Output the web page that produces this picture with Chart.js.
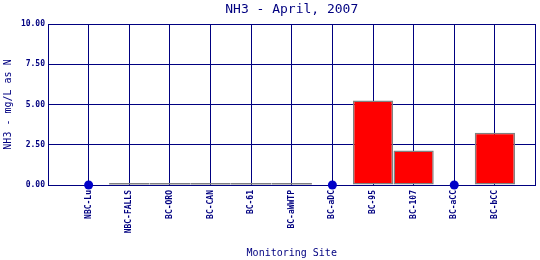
<!DOCTYPE html>
<html>
<head>
<meta charset="utf-8">
<script src="https://cdn.jsdelivr.net/npm/chart.js@4"></script>
<style>
  body { margin: 0; background: #fff; }
  canvas { display: block; }
</style>
</head>
<body>
<canvas id="nh3Chart" width="540" height="260"></canvas>
<script>
// monitoring sites along the x axis
const sites = ['NBC-Lu', 'NBC-FALLS', 'BC-ORO', 'BC-CAN', 'BC-61', 'BC-aWWTP',
               'BC-aDC', 'BC-95', 'BC-107', 'BC-aCC', 'BC-bCC'];
// NH3 (mg/L as N) shown as bars, null = no bar
const barValues = [null, 0, 0, 0, 0, 0, null, 5.25, 2.15, null, 3.25];
// sites drawn as a dot on the zero line
const dotValues = [0, null, null, null, null, null, 0, null, null, 0, null];
const yTicks = [0, 2.5, 5, 7.5, 10];

const navy = '#000080';
const gray = '#808080';
const mono = 'DejaVu Sans Mono';

const ctx = document.getElementById('nh3Chart').getContext('2d');
const nh3Chart = new Chart(ctx, {
    type: 'bar',
    data: {
        datasets: [{
            type: 'line',
            label: 'below detection',
            data: sites.map((s, i) => ({ x: i + 1, y: dotValues[i] })),
            showLine: false,
            pointRadius: 4.5,
            pointBackgroundColor: '#0000c8',
            pointBorderColor: '#0000c8',
            pointBorderWidth: 0,
            clip: false
        }, {
            label: 'NH3',
            data: sites.map((s, i) => ({ x: i + 1, y: barValues[i] })),
            // zero values show up as a flat gray line on the axis
            backgroundColor: c => (c.raw && c.raw.y === 0 ? gray : '#ff0000'),
            borderColor: gray,
            borderWidth: c => (c.raw && c.raw.y === 0 ? 0 : 1.5),
            borderSkipped: false,
            minBarLength: 2,
            barPercentage: 0.99,
            categoryPercentage: 1,
            clip: false
        }]
    },
    options: {
        responsive: false,
        animation: false,
        devicePixelRatio: 1,
        layout: { padding: { left: 0, right: 4, top: 0, bottom: 1 } },
        plugins: {
            legend: { display: false },
            tooltip: { enabled: false },
            title: {
                display: true,
                text: 'NH3 - April, 2007',
                fullSize: false,
                color: navy,
                font: { family: mono, size: 13, weight: 'normal' },
                padding: { top: 2, bottom: 6.4 }
            }
        },
        scales: {
            x: {
                type: 'linear',
                offset: false,
                min: 0,
                max: sites.length + 1,
                afterBuildTicks: s => {
                    s.ticks = [0, ...sites.map((n, i) => i + 1), sites.length + 1].map(v => ({ value: v }));
                },
                afterFit: s => {
                    s.height = 74;
                    s.paddingLeft = 0;
                    s.paddingRight = 0;
                },
                ticks: {
                    autoSkip: false,
                    minRotation: 90,
                    maxRotation: 90,
                    padding: 5,
                    color: navy,
                    font: { family: mono, size: 8, weight: 'bold' },
                    callback: v => sites[v - 1] || ''
                },
                grid: { color: navy, lineWidth: 1, drawTicks: false, offset: false },
                border: { color: navy, width: 1 },
                title: {
                    display: true,
                    text: 'Monitoring Site',
                    color: navy,
                    font: { family: mono, size: 10 },
                    padding: { top: 0, bottom: 0 }
                }
            },
            y: {
                min: 0,
                max: 10,
                afterBuildTicks: s => { s.ticks = yTicks.map(v => ({ value: v })); },
                afterFit: s => { s.width = 48; },
                ticks: {
                    padding: 3,
                    color: navy,
                    font: { family: mono, size: 8, weight: 'bold' },
                    callback: v => v.toFixed(2)
                },
                grid: { color: navy, lineWidth: 1, drawTicks: false },
                border: { color: navy, width: 1 },
                title: {
                    display: true,
                    text: 'NH3 - mg/L as N',
                    color: navy,
                    font: { family: mono, size: 10 },
                    padding: { top: 2, bottom: 0 }
                }
            }
        }
    }
});
</script>
</body>
</html>
